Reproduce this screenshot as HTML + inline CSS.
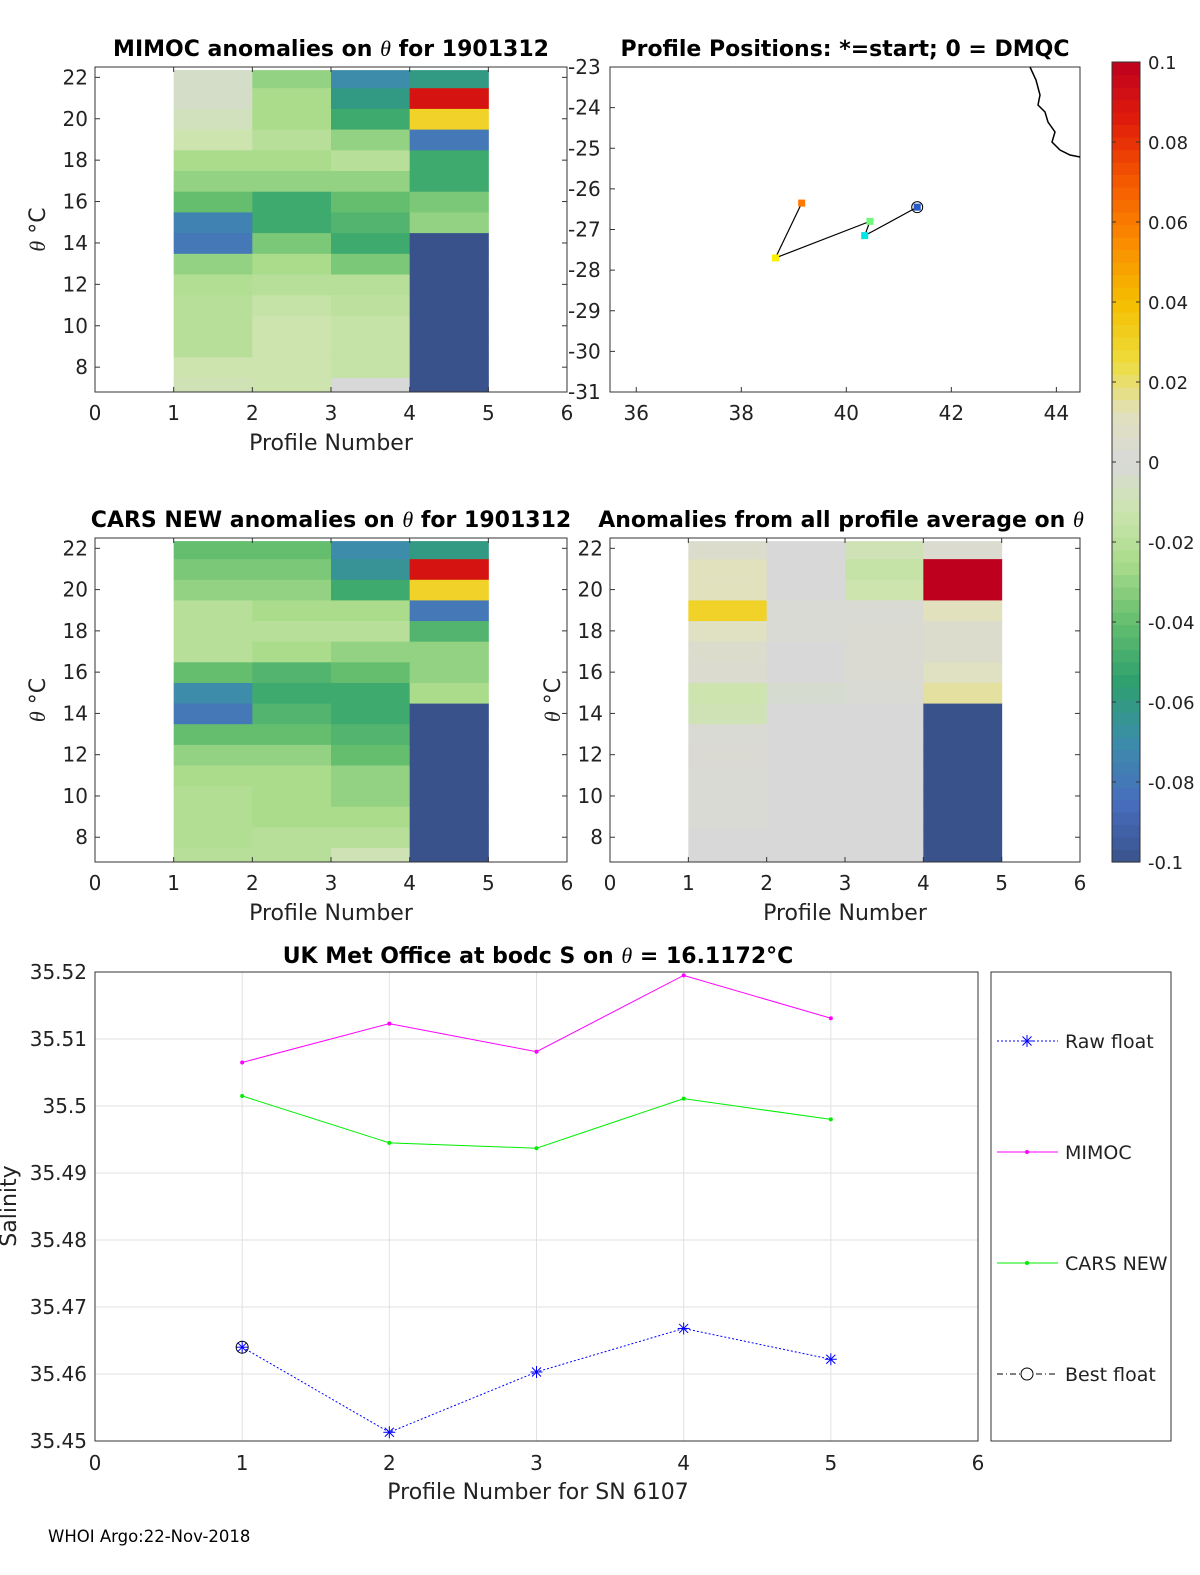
<!DOCTYPE html>
<html><head><meta charset="utf-8">
<style>
html,body{margin:0;padding:0;background:#fff;overflow:hidden;width:1200px;height:1575px}
svg{display:block;font-family:"DejaVu Sans","Liberation Sans",sans-serif}
.t{font-size:20px;fill:#222}
.ti{font-size:22px;font-weight:bold;fill:#000}
.ax{font-size:22px;fill:#222}
</style></head>
<body>
<svg id="s" width="1200" height="1575" viewBox="0 0 1200 1575">
<rect width="1200" height="1575" fill="#fff"/>
<g id="g"></g>
<text x="48" y="1542" style="font-size:16.5px">WHOI Argo:22-Nov-2018</text>
</svg>
<script>
// ---------- data ----------
const thetaLevels=[7,8,9,10,11,12,13,14,15,16,17,18,19,20,21,22];
const mimocCol1=[-0.01,-0.012,-0.02,-0.02,-0.02,-0.022,-0.03,-0.08,-0.075,-0.04,-0.03,-0.025,-0.012,-0.008,-0.005,-0.005];
const mimocCol2=[-0.012,-0.012,-0.012,-0.012,-0.015,-0.02,-0.025,-0.035,-0.05,-0.05,-0.03,-0.025,-0.02,-0.025,-0.025,-0.03];
const mimocCol3=[0,-0.015,-0.015,-0.015,-0.018,-0.02,-0.035,-0.05,-0.045,-0.04,-0.03,-0.02,-0.03,-0.05,-0.06,-0.07];
const mimocCol4=[-0.1,-0.1,-0.1,-0.1,-0.1,-0.1,-0.1,-0.1,-0.03,-0.035,-0.05,-0.05,-0.08,0.03,0.09,-0.06];
const carsCol1=[-0.02,-0.022,-0.022,-0.022,-0.025,-0.03,-0.04,-0.08,-0.07,-0.04,-0.02,-0.02,-0.02,-0.03,-0.035,-0.04];
const carsCol2=[-0.02,-0.02,-0.025,-0.025,-0.025,-0.03,-0.04,-0.045,-0.05,-0.045,-0.025,-0.02,-0.025,-0.03,-0.035,-0.04];
const carsCol3=[-0.01,-0.02,-0.025,-0.03,-0.03,-0.04,-0.045,-0.05,-0.05,-0.04,-0.03,-0.02,-0.025,-0.05,-0.065,-0.07];
const carsCol4=[-0.1,-0.1,-0.1,-0.1,-0.1,-0.1,-0.1,-0.1,-0.025,-0.03,-0.03,-0.045,-0.08,0.03,0.09,-0.06];
const avgCol1=[0,0,0.002,0.002,0.002,0.003,0.002,-0.01,-0.012,0.004,0.005,0.01,0.03,0.012,0.012,0.005];
const avgCol2=[0,0,0,0,0,0,0,0,-0.003,0,0,0.002,0.002,0,0,0];
const avgCol3=[0,0,0,0,0,0,0,0,0.002,0.003,0.003,0.003,0.002,-0.012,-0.015,-0.01];
const avgCol4=[-0.1,-0.1,-0.1,-0.1,-0.1,-0.1,-0.1,-0.1,0.015,0.01,0.005,0.005,0.012,0.1,0.1,0.004];
const profLon=[41.35,40.35,40.45,38.65,39.15];
const profLat=[-26.45,-27.15,-26.8,-27.7,-26.35];
const profNum=[1,2,3,4,5];
const rawFloat=[35.4640,35.4513,35.4603,35.4668,35.4622];
const mimocSal=[35.5065,35.5123,35.5081,35.5195,35.5131];
const carsSal=[35.5015,35.4945,35.4937,35.5011,35.4980];
const bestFloat=[35.4640];
const salTicks=["35.45","35.46","35.47","35.48","35.49","35.5","35.51","35.52"];
const cbTicks=["-0.1","-0.08","-0.06","-0.04","-0.02","0","0.02","0.04","0.06","0.08","0.1"];

// ---------- helpers ----------
const NS="http://www.w3.org/2000/svg";
const G=document.getElementById('g');
function el(tag,attrs,parent,txt){const e=document.createElementNS(NS,tag);for(const k in attrs)e.setAttribute(k,attrs[k]);if(txt!==undefined)e.textContent=txt;(parent||G).appendChild(e);return e;}
function titleText(parent,x,y,before,after,cls){
  const t=el('text',{x:x,y:y,'text-anchor':'middle',class:cls},parent);
  el('tspan',{},t,before);
  el('tspan',{'font-style':'italic','font-weight':'normal','font-family':'"Liberation Serif",serif'},t,'θ');
  el('tspan',{},t,after);
  return t;
}
const stops=[[-0.1,[58,82,140]],[-0.085,[72,110,190]],[-0.07,[60,140,170]],[-0.055,[45,160,110]],[-0.04,[100,190,110]],[-0.025,[170,220,140]],[-0.012,[205,228,175]],[0,[216,216,216]],[0.012,[225,225,190]],[0.025,[238,220,60]],[0.04,[245,190,0]],[0.055,[250,140,0]],[0.07,[245,90,0]],[0.085,[225,30,10]],[0.1,[190,0,30]]];
function cmap(v){v=Math.max(-0.1,Math.min(0.1,v));for(let i=0;i<stops.length-1;i++){const a=stops[i],b=stops[i+1];if(v<=b[0]){const t=(v-a[0])/(b[0]-a[0]);const c=a[1].map((x,j)=>Math.round(x+(b[1][j]-x)*t));return `rgb(${c})`;}}return 'rgb(190,0,30)';}

function heatPanel(name,x0,y0,x1,y1,cols,tb,ta,showYlab,tx){
  const g=el('g',{});  
  const ymin=6.8,ymax=22.5;
  const sx=v=>x0+(x1-x0)*v/6, sy=v=>y1-(y1-y0)*(v-ymin)/(ymax-ymin);
  const cg=el('g',{},g);  
  cols.forEach((col,ci)=>{thetaLevels.forEach((t,li)=>{
    const lo=Math.max(ymin,t-0.5), hi=Math.min(22.35,t+0.5);
    if(hi<=lo)return;
    const r=el('rect',{x:sx(ci+1),y:sy(hi),width:sx(ci+2)-sx(ci+1)+0.5,height:sy(lo)-sy(hi)+0.5,fill:cmap(col[li])},cg);
    
    
  });});
  el('rect',{x:x0,y:y0,width:x1-x0,height:y1-y0,fill:'none',stroke:'#333','stroke-width':1},g);
  for(let i=0;i<=6;i++){const x=sx(i);el('line',{x1:x,x2:x,y1:y1,y2:y1-5,stroke:'#333'},g);el('line',{x1:x,x2:x,y1:y0,y2:y0+5,stroke:'#333'},g);
    el('text',{x:x,y:y1+28,'text-anchor':'middle',class:'t'},g,String(i));}
  for(let v=8;v<=22;v+=2){const y=sy(v);el('line',{x1:x0,x2:x0+5,y1:y,y2:y,stroke:'#333'},g);el('line',{x1:x1,x2:x1-5,y1:y,y2:y,stroke:'#333'},g);
    el('text',{x:x0-7,y:y+7,'text-anchor':'end',class:'t'},g,String(v));}
  const xl=el('text',{x:(x0+x1)/2,y:y1+58,'text-anchor':'middle',class:'ax'},g,'Profile Number');
   
  if(showYlab){const yl=el('text',{x:0,y:0,transform:`translate(${x0-50},${(y0+y1)/2}) rotate(-90)`,'text-anchor':'middle',class:'ax'},g);
    el('tspan',{'font-style':'italic','font-family':'"Liberation Serif",serif'},yl,'θ');
    el('tspan',{},yl,' °C');
     }
  const tt=titleText(g,tx,y0-11,tb,ta,'ti');
   
}
heatPanel('mimoc-anomaly-panel',95,67,567,392,[mimocCol1,mimocCol2,mimocCol3,mimocCol4],'MIMOC anomalies on ','  for 1901312',true,331);
heatPanel('cars-anomaly-panel',95,538,567,862,[carsCol1,carsCol2,carsCol3,carsCol4],'CARS NEW anomalies on ',' for 1901312',true,331);
heatPanel('profile-average-anomaly-panel',610,538,1080,862,[avgCol1,avgCol2,avgCol3,avgCol4],'Anomalies from all profile average on ','',true,841);

// ---------- map ----------
(function(){
  const x0=610,x1=1080,y0=67,y1=392;
  const g=el('g',{});  
  const sx=v=>x0+(v-35.5)*(x1-x0)/(44.45-35.5), sy=v=>y0+(-23-v)*(y1-y0)/8;
  el('rect',{x:x0,y:y0,width:x1-x0,height:y1-y0,fill:'none',stroke:'#333'},g);
  for(let v=36;v<=44;v+=2){const x=sx(v);el('line',{x1:x,x2:x,y1:y1,y2:y1-5,stroke:'#333'},g);el('text',{x:x,y:y1+28,'text-anchor':'middle',class:'t'},g,String(v));}
  for(let v=-31;v<=-23;v++){const y=sy(v);el('line',{x1:x0,x2:x0+5,y1:y,y2:y,stroke:'#333'},g);el('text',{x:x0-42,y:y+7,'text-anchor':'start',class:'t'},g,String(v));}
  const coast=el('polyline',{points:'1030,67 1036,80 1040,95 1038,105 1045,112 1048,122 1055,132 1052,142 1060,150 1070,155 1080,157',fill:'none',stroke:'#000','stroke-width':1.5},g);
   
  const pts=profLon.map((v,i)=>sx(v)+','+sy(profLat[i])).join(' ');
  const tr=el('polyline',{points:pts,fill:'none',stroke:'#000','stroke-width':1.2},g);
   
  const pc=['rgb(40,90,200)','rgb(0,230,230)','rgb(110,250,120)','rgb(250,240,0)','rgb(255,120,0)'];
  profNum.forEach((n,i)=>{const m=el('rect',{x:sx(profLon[i])-3.5,y:sy(profLat[i])-3.5,width:7,height:7,fill:pc[i]},g);
     });
  el('circle',{cx:sx(profLon[0]),cy:sy(profLat[0]),r:5.5,fill:'none',stroke:'#000'},g);
  const tt=el('text',{x:845,y:56,'text-anchor':'middle',class:'ti'},g,'Profile Positions: *=start; 0 = DMQC');
   
})();

// ---------- colorbar ----------
(function(){
  const x0=1112,x1=1140,y0=62,y1=862;
  const g=el('g',{});  
  const n=64;
  for(let i=0;i<n;i++){const v=-0.1+0.2*(i+0.5)/n;el('rect',{x:x0,y:y1-(i+1)*(y1-y0)/n,width:x1-x0,height:(y1-y0)/n+0.6,fill:cmap(v)},g);}
  el('rect',{x:x0,y:y0,width:x1-x0,height:y1-y0,fill:'none',stroke:'#333'},g);
  cbTicks.forEach((t,i)=>{const y=y1-i*(y1-y0)/(cbTicks.length-1);
    el('line',{x1:x1,x2:x1-4,y1:y,y2:y,stroke:'#333'},g);el('line',{x1:x0,x2:x0+4,y1:y,y2:y,stroke:'#333'},g);
    el('text',{x:x1+8,y:y+7,class:'t',style:'font-size:18px'},g,t);});
})();

// ---------- salinity chart ----------
(function(){
  const x0=95,x1=978,y0=972,y1=1441;
  const g=el('g',{});  
  const sx=v=>x0+(x1-x0)*v/6, sy=v=>y1-(y1-y0)*(v-35.45)/0.07;
  for(let i=0;i<=6;i++){const x=sx(i);el('line',{x1:x,x2:x,y1:y0,y2:y1,stroke:'#e2e2e2'},g);
    el('text',{x:x,y:y1+29,'text-anchor':'middle',class:'t'},g,String(i));}
  salTicks.forEach(t=>{const y=sy(parseFloat(t));el('line',{x1:x0,x2:x1,y1:y,y2:y,stroke:'#e2e2e2'},g);
    el('text',{x:x0-8,y:y+7,'text-anchor':'end',class:'t'},g,t);});
  el('rect',{x:x0,y:y0,width:x1-x0,height:y1-y0,fill:'none',stroke:'#333'},g);
  function series(name,vals,color,dash,marker){
    const sg=el('g',{},g);  
    const pts=vals.map((v,i)=>sx(i+1)+','+sy(v)).join(' ');
    el('polyline',{points:pts,fill:'none',stroke:color,'stroke-width':1,'stroke-dasharray':dash},sg);
    vals.forEach((v,i)=>{const x=sx(i+1),y=sy(v);
      if(marker==='dot'){el('circle',{cx:x,cy:y,r:2,fill:color},sg);}
      else if(marker==='star'){[[-6,0,6,0],[0,-6,0,6],[-4.5,-4.5,4.5,4.5],[-4.5,4.5,4.5,-4.5]].forEach(d=>el('line',{x1:x+d[0],y1:y+d[1],x2:x+d[2],y2:y+d[3],stroke:color},sg));}
      else {el('circle',{cx:x,cy:y,r:6,fill:'none',stroke:color},sg);}
    });
  }
  series('raw-float-series',rawFloat,'#0000ff','2,2','star');
  series('mimoc-series',mimocSal,'#ff00ff','','dot');
  series('cars-new-series',carsSal,'#00ee00','','dot');
  series('best-float-series',bestFloat,'#000','6,3,1,3','circle');
  const tt=titleText(g,538,963,'UK Met Office at bodc S on ',' = 16.1172°C','ti');
   
  const xl=el('text',{x:538,y:1499,'text-anchor':'middle',class:'ax'},g,'Profile Number for SN 6107');
   
  const yl=el('text',{x:0,y:0,transform:'translate(16,1206) rotate(-90)','text-anchor':'middle',class:'ax'},g,'Salinity');
   
  // legend
  const lg=el('g',{},g);  
  el('rect',{x:991,y:972,width:180,height:469,fill:'#fff',stroke:'#333'},lg);
  const items=[['Raw float','#0000ff','2,2','star',1041],['MIMOC','#ff00ff','','dot',1152],['CARS NEW','#00ee00','','dot',1263],['Best float','#000','6,3,1,3','circle',1374]];
  items.forEach(it=>{
    const e=el('g',{},lg);  
    const y=it[4];
    el('line',{x1:997,x2:1058,y1:y,y2:y,stroke:it[1],'stroke-dasharray':it[2]},e);
    const cx=1027;
    if(it[3]==='dot')el('circle',{cx:cx,cy:y,r:2,fill:it[1]},e);
    else if(it[3]==='star')[[-6,0,6,0],[0,-6,0,6],[-4.5,-4.5,4.5,4.5],[-4.5,4.5,4.5,-4.5]].forEach(d=>el('line',{x1:cx+d[0],y1:y+d[1],x2:cx+d[2],y2:y+d[3],stroke:it[1]},e));
    else el('circle',{cx:cx,cy:y,r:6,fill:'#fff',stroke:it[1]},e);
    el('text',{x:1065,y:y+7,class:'t',style:'font-size:19px'},e,it[0]);
  });
})();
</script>
</body></html>
